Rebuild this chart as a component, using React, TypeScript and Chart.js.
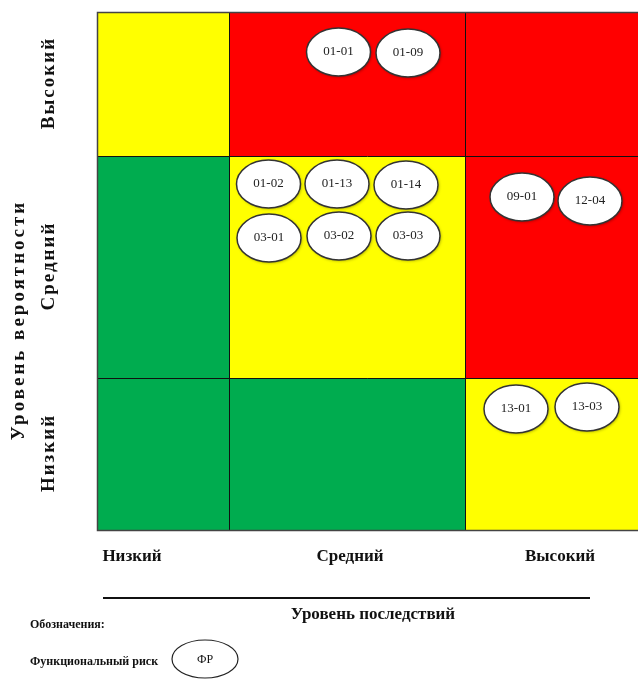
import React, { useEffect, useRef } from 'react';
import { Chart, registerables } from 'chart.js';

Chart.register(...registerables);

// ---- Data ----
const consequenceLevels = ['Низкий', 'Средний', 'Высокий'];
const probabilityLevels = ['Низкий', 'Средний', 'Высокий']; // bottom -> top
// matrix risk zone per cell, rows bottom -> top, columns left -> right
const zoneRows = [
  ['low', 'low', 'medium'],
  ['low', 'medium', 'high'],
  ['medium', 'high', 'high'],
];
const riskCodes = ['01-01', '01-09', '01-02', '01-13', '01-14', '03-01', '03-02', '03-03', '09-01', '12-04', '13-01', '13-03'];
const riskX = [241.5, 311, 171.5, 240, 309, 172, 242, 311, 425, 493, 419, 490];
const riskY = [478, 477, 346, 346, 345, 292, 294, 294, 333, 329, 121, 123];

const xAxisTitle = 'Уровень последствий';
const yAxisTitle = 'Уровень вероятности';
const legendTitle = 'Обозначения:';
const legendItem = 'Функциональный риск';
const legendSymbol = 'ФР';

// ---- Layout (scale units) ----
const colEdges = [0, 132, 368, 541];
const rowEdges = [0, 152, 374, 518];
const xLabelPos = [35, 253, 463];

const zoneColors: Record<string, string> = {
  low: '#00AC4F',
  medium: '#FFFF00',
  high: '#FF0000',
};

const SERIF = "'Liberation Serif', 'Times New Roman', serif";

const matrixPlugin = {
  id: 'matrix',
  beforeDatasetsDraw(chart: any) {
    const { ctx, scales } = chart;
    const xs = scales.x;
    const ys = scales.y;
    ctx.save();
    for (let r = 0; r < 3; r++) {
      for (let c = 0; c < 3; c++) {
        const x0 = xs.getPixelForValue(colEdges[c]);
        const x1 = xs.getPixelForValue(colEdges[c + 1]);
        const y0 = ys.getPixelForValue(rowEdges[r + 1]);
        const y1 = ys.getPixelForValue(rowEdges[r]);
        ctx.fillStyle = zoneColors[zoneRows[r][c]];
        ctx.fillRect(x0, y0, x1 - x0, y1 - y0);
      }
    }
    // inner grid lines
    ctx.strokeStyle = '#111';
    ctx.lineWidth = 1;
    ctx.beginPath();
    for (let c = 1; c < 3; c++) {
      const x = Math.round(xs.getPixelForValue(colEdges[c])) + 0.5;
      ctx.moveTo(x, ys.getPixelForValue(rowEdges[3]));
      ctx.lineTo(x, ys.getPixelForValue(rowEdges[0]));
    }
    for (let r = 1; r < 3; r++) {
      const y = Math.round(ys.getPixelForValue(rowEdges[r])) + 0.5;
      ctx.moveTo(xs.getPixelForValue(colEdges[0]), y);
      ctx.lineTo(xs.getPixelForValue(colEdges[3]), y);
    }
    ctx.stroke();
    // outer border
    ctx.strokeStyle = '#444';
    ctx.lineWidth = 1.5;
    const L = xs.getPixelForValue(colEdges[0]);
    const R = xs.getPixelForValue(colEdges[3]);
    const T = ys.getPixelForValue(rowEdges[3]);
    const B = ys.getPixelForValue(rowEdges[0]);
    ctx.beginPath();
    ctx.moveTo(R, T + 0.5);
    ctx.lineTo(L + 0.5, T + 0.5);
    ctx.lineTo(L + 0.5, B + 0.5);
    ctx.lineTo(R, B + 0.5);
    ctx.stroke();
    ctx.restore();
  },
  afterDatasetsDraw(chart: any) {
    const { ctx } = chart;
    const meta = chart.getDatasetMeta(0);
    ctx.save();
    meta.data.forEach((pt: any, i: number) => {
      const rx = 32;
      const ry = 24;
      ctx.save();
      ctx.shadowColor = 'rgba(0,0,0,0.35)';
      ctx.shadowBlur = 3;
      ctx.shadowOffsetX = 1;
      ctx.shadowOffsetY = 1;
      ctx.beginPath();
      ctx.ellipse(pt.x, pt.y, rx, ry, 0, 0, Math.PI * 2);
      ctx.fillStyle = '#fff';
      ctx.fill();
      ctx.restore();
      ctx.beginPath();
      ctx.ellipse(pt.x, pt.y, rx, ry, 0, 0, Math.PI * 2);
      ctx.strokeStyle = '#333';
      ctx.lineWidth = 1.5;
      ctx.stroke();
      ctx.fillStyle = '#222';
      ctx.font = `13px ${SERIF}`;
      ctx.textAlign = 'center';
      ctx.textBaseline = 'middle';
      ctx.fillText(riskCodes[i], pt.x, pt.y);
    });
    ctx.restore();
  },
  afterDraw(chart: any) {
    const { ctx, scales } = chart;
    const xs = scales.x;
    const ys = scales.y;
    ctx.save();
    ctx.fillStyle = '#111';
    ctx.textBaseline = 'middle';
    ctx.textAlign = 'center';
    // x category labels
    ctx.font = `bold 17px ${SERIF}`;
    consequenceLevels.forEach((lab, i) => {
      ctx.fillText(lab, xs.getPixelForValue(xLabelPos[i]), 557);
    });
    // axis line + title
    ctx.strokeStyle = '#111';
    ctx.lineWidth = 2;
    ctx.beginPath();
    ctx.moveTo(103, 598);
    ctx.lineTo(590, 598);
    ctx.stroke();
    ctx.fillText(xAxisTitle, 373, 615);
    // rotated y labels
    ctx.font = `bold 19px ${SERIF}`;
    (ctx as any).letterSpacing = '2px';
    probabilityLevels.forEach((lab, r) => {
      const yc = (ys.getPixelForValue(rowEdges[r]) + ys.getPixelForValue(rowEdges[r + 1])) / 2;
      ctx.save();
      ctx.translate(49, yc);
      ctx.rotate(-Math.PI / 2);
      ctx.fillText(lab, 1, 0);
      ctx.restore();
    });
    (ctx as any).letterSpacing = '3px';
    ctx.save();
    ctx.translate(19, 321);
    ctx.rotate(-Math.PI / 2);
    ctx.fillText(yAxisTitle, 1, 0);
    ctx.restore();
    (ctx as any).letterSpacing = '0px';
    // legend
    ctx.textAlign = 'left';
    ctx.font = `bold 12px ${SERIF}`;
    ctx.fillText(legendTitle, 30, 625);
    ctx.fillText(legendItem, 30, 662);
    ctx.beginPath();
    ctx.ellipse(205, 659, 33, 19, 0, 0, Math.PI * 2);
    ctx.strokeStyle = '#222';
    ctx.lineWidth = 1.2;
    ctx.stroke();
    ctx.textAlign = 'center';
    ctx.font = `12px ${SERIF}`;
    ctx.fillText(legendSymbol, 205, 660);
    ctx.restore();
  },
};

export default function App() {
  const canvasRef = useRef<HTMLCanvasElement | null>(null);

  useEffect(() => {
    if (!canvasRef.current) return;
    const chart = new Chart(canvasRef.current, {
      type: 'scatter',
      data: {
        datasets: [
          {
            label: 'Риски',
            data: riskX.map((x, i) => ({ x, y: riskY[i] })),
            pointRadius: 0,
            pointHoverRadius: 0,
          },
        ],
      },
      options: {
        responsive: false,
        animation: false,
        devicePixelRatio: 1,
        layout: { padding: { left: 97, top: 12, right: 0, bottom: 150 } },
        scales: {
          x: { type: 'linear', min: colEdges[0], max: colEdges[3], display: false },
          y: { type: 'linear', min: rowEdges[0], max: rowEdges[3], display: false },
        },
        plugins: {
          legend: { display: false },
          tooltip: { enabled: false },
        },
      },
      plugins: [matrixPlugin],
    });
    return () => chart.destroy();
  }, []);

  return (
    <div style={{ position: 'absolute', left: 0, top: 0, width: 638, height: 680, background: '#fff' }}>
      <canvas ref={canvasRef} width={638} height={680} style={{ display: 'block' }} />
    </div>
  );
}
